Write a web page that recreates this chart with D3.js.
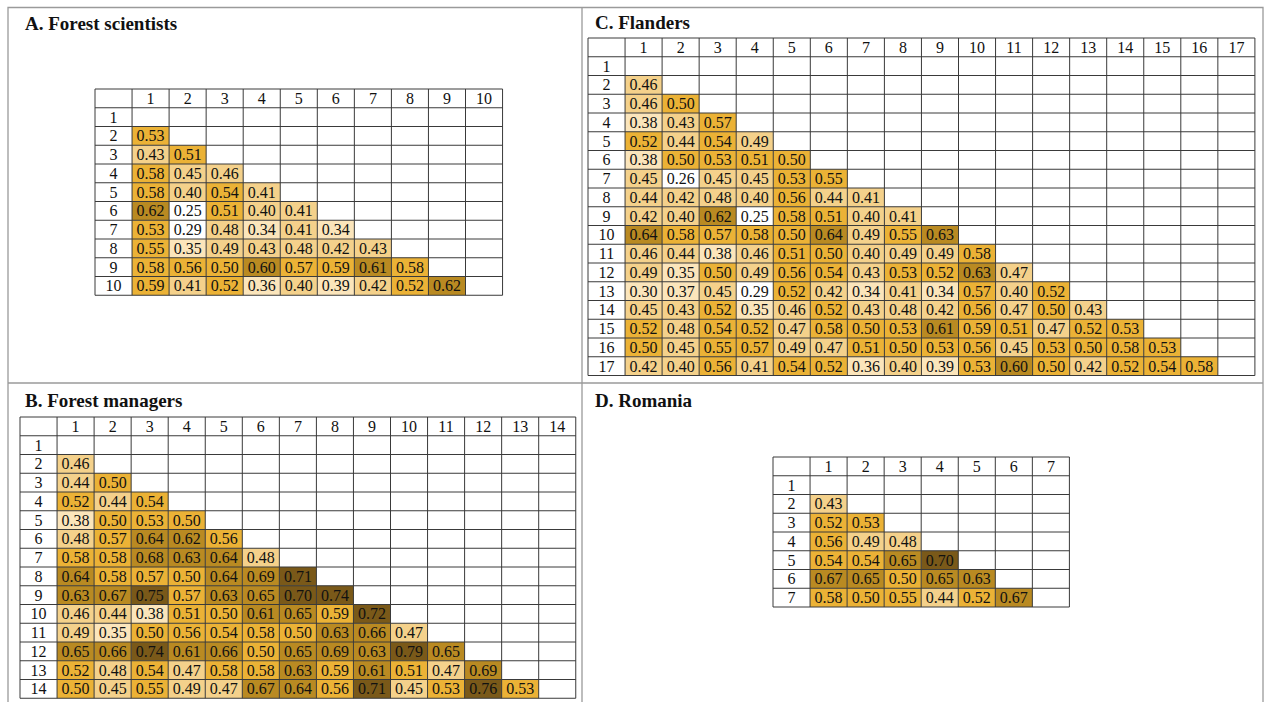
<!DOCTYPE html>
<html>
<head>
<meta charset="utf-8">
<script src="https://cdn.jsdelivr.net/npm/d3@7"></script>
<style>
  body { margin: 0; background: #fff; }
  svg { display: block; }
  text { font-family: 'Liberation Serif', 'Times New Roman', serif; }
</style>
</head>
<body>
<svg id="chart" width="1267" height="702"></svg>
<script>
// Lower-triangle similarity values, row i holds columns 1..i-1
const scientists = [
  [],
  [0.53],
  [0.43, 0.51],
  [0.58, 0.45, 0.46],
  [0.58, 0.40, 0.54, 0.41],
  [0.62, 0.25, 0.51, 0.40, 0.41],
  [0.53, 0.29, 0.48, 0.34, 0.41, 0.34],
  [0.55, 0.35, 0.49, 0.43, 0.48, 0.42, 0.43],
  [0.58, 0.56, 0.50, 0.60, 0.57, 0.59, 0.61, 0.58],
  [0.59, 0.41, 0.52, 0.36, 0.40, 0.39, 0.42, 0.52, 0.62]
];

const managers = [
  [],
  [0.46],
  [0.44, 0.50],
  [0.52, 0.44, 0.54],
  [0.38, 0.50, 0.53, 0.50],
  [0.48, 0.57, 0.64, 0.62, 0.56],
  [0.58, 0.58, 0.68, 0.63, 0.64, 0.48],
  [0.64, 0.58, 0.57, 0.50, 0.64, 0.69, 0.71],
  [0.63, 0.67, 0.75, 0.57, 0.63, 0.65, 0.70, 0.74],
  [0.46, 0.44, 0.38, 0.51, 0.50, 0.61, 0.65, 0.59, 0.72],
  [0.49, 0.35, 0.50, 0.56, 0.54, 0.58, 0.50, 0.63, 0.66, 0.47],
  [0.65, 0.66, 0.74, 0.61, 0.66, 0.50, 0.65, 0.69, 0.63, 0.79, 0.65],
  [0.52, 0.48, 0.54, 0.47, 0.58, 0.58, 0.63, 0.59, 0.61, 0.51, 0.47, 0.69],
  [0.50, 0.45, 0.55, 0.49, 0.47, 0.67, 0.64, 0.56, 0.71, 0.45, 0.53, 0.76, 0.53]
];

const flanders = [
  [],
  [0.46],
  [0.46, 0.50],
  [0.38, 0.43, 0.57],
  [0.52, 0.44, 0.54, 0.49],
  [0.38, 0.50, 0.53, 0.51, 0.50],
  [0.45, 0.26, 0.45, 0.45, 0.53, 0.55],
  [0.44, 0.42, 0.48, 0.40, 0.56, 0.44, 0.41],
  [0.42, 0.40, 0.62, 0.25, 0.58, 0.51, 0.40, 0.41],
  [0.64, 0.58, 0.57, 0.58, 0.50, 0.64, 0.49, 0.55, 0.63],
  [0.46, 0.44, 0.38, 0.46, 0.51, 0.50, 0.40, 0.49, 0.49, 0.58],
  [0.49, 0.35, 0.50, 0.49, 0.56, 0.54, 0.43, 0.53, 0.52, 0.63, 0.47],
  [0.30, 0.37, 0.45, 0.29, 0.52, 0.42, 0.34, 0.41, 0.34, 0.57, 0.40, 0.52],
  [0.45, 0.43, 0.52, 0.35, 0.46, 0.52, 0.43, 0.48, 0.42, 0.56, 0.47, 0.50, 0.43],
  [0.52, 0.48, 0.54, 0.52, 0.47, 0.58, 0.50, 0.53, 0.61, 0.59, 0.51, 0.47, 0.52, 0.53],
  [0.50, 0.45, 0.55, 0.57, 0.49, 0.47, 0.51, 0.50, 0.53, 0.56, 0.45, 0.53, 0.50, 0.58, 0.53],
  [0.42, 0.40, 0.56, 0.41, 0.54, 0.52, 0.36, 0.40, 0.39, 0.53, 0.60, 0.50, 0.42, 0.52, 0.54, 0.58]
];

const romania = [
  [],
  [0.43],
  [0.52, 0.53],
  [0.56, 0.49, 0.48],
  [0.54, 0.54, 0.65, 0.70],
  [0.67, 0.65, 0.50, 0.65, 0.63],
  [0.58, 0.50, 0.55, 0.44, 0.52, 0.67]
];

// Colour bins
const binEdges = [0.30, 0.40, 0.50, 0.60, 0.70];
const binColors = ['#ffffff', '#fbe5bb', '#f4d18b', '#ebb236', '#b98a22', '#7a5919'];

// Panel layout
const CELLW = 37.05;
const ROWH = 18.75;
const panels = [
  { title: 'A. Forest scientists', data: scientists, tx: 25, ty: 30, x: 95, y: 89 },
  { title: 'C. Flanders', data: flanders, tx: 595, ty: 29, x: 588, y: 38 },
  { title: 'B. Forest managers', data: managers, tx: 25, ty: 407, x: 20, y: 417 },
  { title: 'D. Romania', data: romania, tx: 595, ty: 407, x: 773, y: 457 }
];

const svg = d3.select('#chart');
const color = d3.scaleThreshold().domain(binEdges).range(binColors);

// Frame and dividers
const frame = svg.append('g')
  .attr('stroke', '#9a9a9a')
  .attr('stroke-width', 1.3)
  .attr('fill', 'none');
frame.append('path').attr('d', 'M8,702 V7.5 H1263 V702');
frame.append('line').attr('x1', 582).attr('x2', 582).attr('y1', 7.5).attr('y2', 702);
frame.append('line').attr('x1', 8).attr('x2', 1263).attr('y1', 383).attr('y2', 383);

panels.forEach(p => drawPanel(p));

function drawPanel(p) {
  const n = p.data.length;
  const labels = d3.range(1, n + 1).map(String);
  // header slot '' followed by the item numbers
  const x = d3.scaleBand().domain([''].concat(labels)).range([p.x, p.x + CELLW * (n + 1)]);
  const y = d3.scaleBand().domain([''].concat(labels)).range([p.y, p.y + ROWH * (n + 1)]);

  svg.append('text')
    .attr('x', p.tx)
    .attr('y', p.ty)
    .attr('font-weight', 'bold')
    .attr('font-size', 19)
    .attr('fill', '#111')
    .text(p.title);

  const cells = [];
  p.data.forEach((row, i) => row.forEach((v, j) => cells.push({ r: String(i + 1), c: String(j + 1), v })));

  const g = svg.append('g');
  g.selectAll('rect.cell')
    .data(cells)
    .join('rect')
    .attr('class', 'cell')
    .attr('x', d => x(d.c))
    .attr('y', d => y(d.r))
    .attr('width', x.bandwidth())
    .attr('height', y.bandwidth())
    .attr('fill', d => color(d.v));

  // grid
  const grid = g.append('g').attr('stroke', '#3a3a3a').attr('stroke-width', 1);
  const xs = x.domain().map(k => x(k)).concat([x.range()[1]]);
  const ys = y.domain().map(k => y(k)).concat([y.range()[1]]);
  grid.selectAll('line.v').data(xs).join('line')
    .attr('x1', d => d).attr('x2', d => d)
    .attr('y1', ys[0]).attr('y2', ys[ys.length - 1]);
  grid.selectAll('line.h').data(ys).join('line')
    .attr('class', 'h')
    .attr('y1', d => d).attr('y2', d => d)
    .attr('x1', xs[0]).attr('x2', xs[xs.length - 1]);

  const txt = g.append('g')
    .attr('font-size', 16)
    .attr('fill', '#111')
    .attr('text-anchor', 'middle');

  // column headers
  txt.selectAll('text.col').data(labels).join('text')
    .attr('class', 'col')
    .attr('x', d => x(d) + x.bandwidth() / 2)
    .attr('y', y('') + y.bandwidth() / 2)
    .attr('dy', '0.34em')
    .text(d => d);
  // row headers
  txt.selectAll('text.row').data(labels).join('text')
    .attr('class', 'row')
    .attr('x', x('') + x.bandwidth() / 2)
    .attr('y', d => y(d) + y.bandwidth() / 2)
    .attr('dy', '0.34em')
    .text(d => d);
  // values
  txt.selectAll('text.val').data(cells).join('text')
    .attr('class', 'val')
    .attr('x', d => x(d.c) + x.bandwidth() / 2)
    .attr('y', d => y(d.r) + y.bandwidth() / 2)
    .attr('dy', '0.34em')
    .text(d => d.v.toFixed(2));
}
</script>
</body>
</html>
